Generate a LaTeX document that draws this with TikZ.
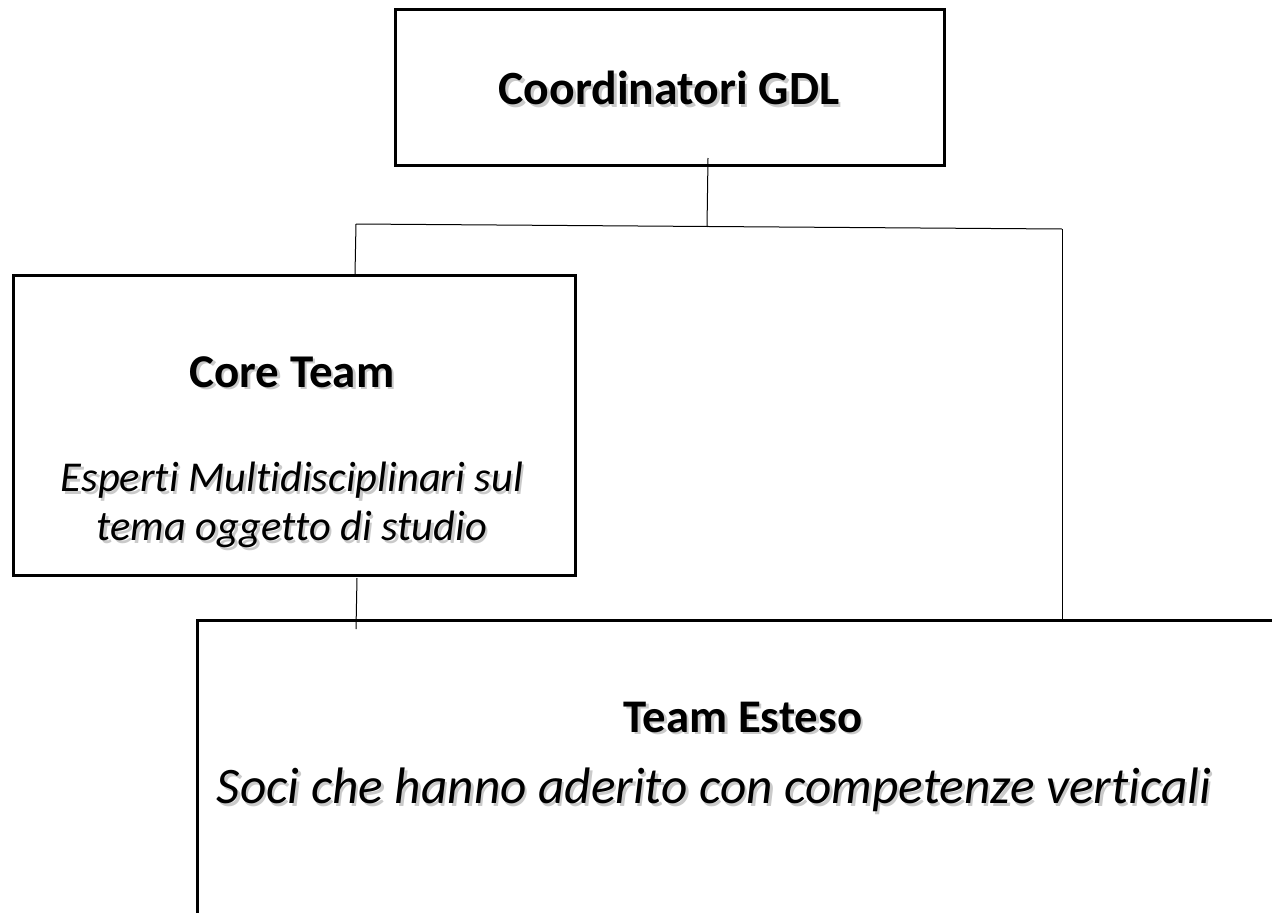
\documentclass[tikz,border=0pt]{standalone}
\usepackage{fontspec}
\setmainfont{Carlito}[Ligatures={NoCommon}]
\begin{document}
\begin{tikzpicture}[x=1pt,y=-1pt,
  box/.style={draw=black, line width=2.6pt, inner sep=0pt, anchor=north west},
  conn/.style={draw=black, line width=1pt},
  ttl/.style={font=\bfseries\fontsize{47.7}{54}\selectfont, inner sep=0pt},
  sub/.style={font=\itshape\fontsize{42.5}{49}\selectfont, align=center, inner sep=0pt},
  shd/.style={text=black!35, opacity=0.6},
]
\useasboundingbox (0,0) rectangle (1272,913);
\clip (0,0) rectangle (1272,913);

% boxes
\node[box, minimum width=549pt, minimum height=156pt] (coord) at (394,8) {};
\node[box, minimum width=562pt, minimum height=300pt] (core) at (12,274) {};
\node[box, minimum width=1110pt, minimum height=360pt] (est) at (196,619) {};

% texts with soft shadows
\node[ttl, shd] (coordS) at (671.5,90.5) {Coordinatori GDL};
\node[ttl] (coordT) at (669,88) {Coordinatori GDL};

\node[ttl, shd, font=\bfseries\fontsize{47}{54}\selectfont] (coreS) at (294.5,374.5) {Core Team};
\node[ttl, font=\bfseries\fontsize{47}{54}\selectfont] (coreT) at (292,372) {Core Team};
\node[sub, shd] (coreSubS) at (294.5,507.5) {Esperti Multidisciplinari sul\\tema oggetto di studio};
\node[sub] (coreSub) at (292,505) {Esperti Multidisciplinari sul\\tema oggetto di studio};

\node[ttl, shd, font=\bfseries\fontsize{46.8}{54}\selectfont] (estS) at (745.5,719.5) {Team Esteso};
\node[ttl, font=\bfseries\fontsize{46.8}{54}\selectfont] (estT) at (743,717) {Team Esteso};
\node[sub, shd, font=\itshape\fontsize{51.3}{56}\selectfont] (estSubS) at (716.5,792.5) {Soci che hanno aderito con competenze verticali};
\node[sub, font=\itshape\fontsize{51.3}{56}\selectfont] (estSub) at (714,790) {Soci che hanno aderito con competenze verticali};

% connector points
\coordinate (a1) at (708,158);
\coordinate (a2) at (707,227);
\coordinate (hl) at (356,224);
\coordinate (hr) at (1062,229);
\coordinate (cl) at (355,274);
\coordinate (er) at (1062,619);
\coordinate (b1) at (357,578);
\coordinate (b2) at (356,629);

\draw[conn] (a1) -- (a2);
\draw[conn] (hl) -- (hr);
\draw[conn] (hl) -- (cl);
\draw[conn] (hr) -- (er);
\draw[conn] (b1) -- (b2);
\end{tikzpicture}
\end{document}
